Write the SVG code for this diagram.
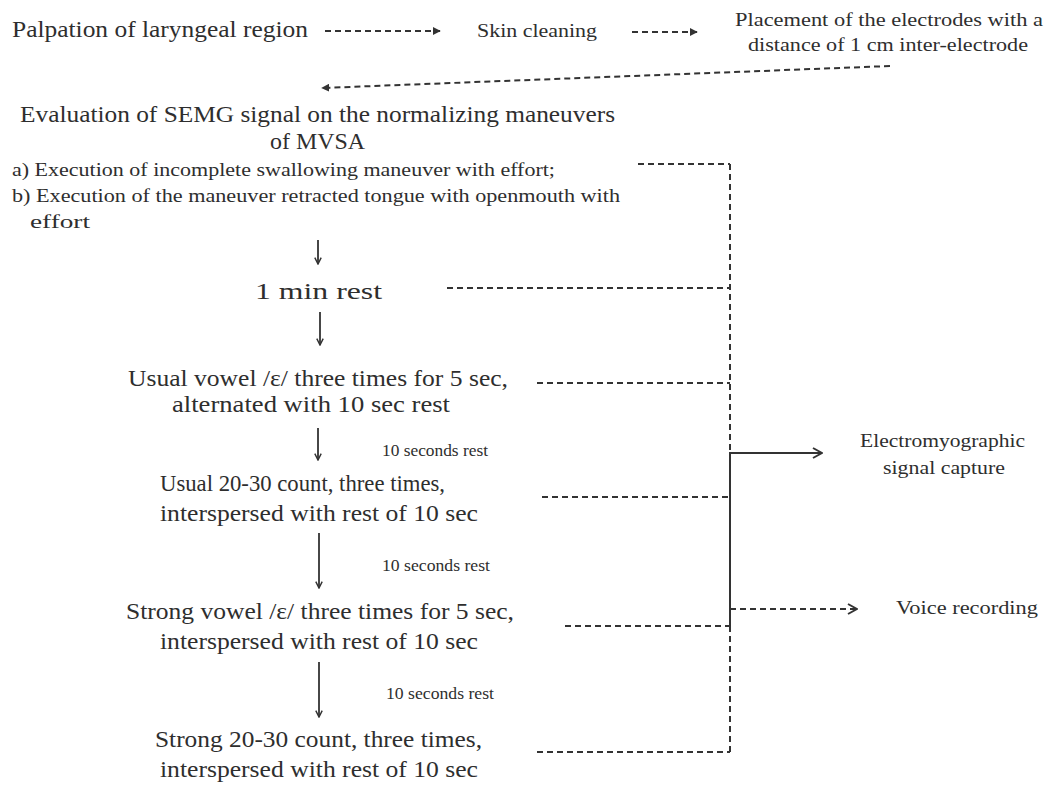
<svg xmlns="http://www.w3.org/2000/svg" width="1049" height="785" viewBox="0 0 1049 785">
<style>
text{font-family:"Liberation Serif","Times New Roman",serif;fill:#2e2e2e}
.l{font-size:23px}
.m{font-size:18px}
.s{font-size:16.5px}
.d{fill:none;stroke:#333;stroke-width:2;stroke-dasharray:6 4}
.sol{fill:none;stroke:#333;stroke-width:2}
.dn{fill:none;stroke:#333;stroke-width:1.8}
</style>
<defs>
<marker id="tri" viewBox="0 0 10 10" refX="9" refY="5" markerWidth="4" markerHeight="4" orient="auto" markerUnits="strokeWidth">
<path d="M0,0 L10,5 L0,10 z" fill="#333"/>
</marker>
<marker id="chev" viewBox="0 0 10 10" refX="9" refY="5" markerWidth="8" markerHeight="8" orient="auto" markerUnits="userSpaceOnUse">
<path d="M1,1 L9,5 L1,9" fill="none" stroke="#333" stroke-width="1.8"/>
</marker>
<marker id="chevL" viewBox="0 0 12 12" refX="11" refY="6" markerWidth="12" markerHeight="12" orient="auto" markerUnits="userSpaceOnUse">
<path d="M2,1 L11,6 L2,11" fill="none" stroke="#333" stroke-width="2"/>
</marker>
</defs>
<rect width="1049" height="785" fill="#fff"/>

<g id="palpation"><text class="l" x="12" y="37" textLength="296" lengthAdjust="spacingAndGlyphs">Palpation of laryngeal region</text></g>
<g id="skin"><text class="m" x="477" y="37" textLength="120" lengthAdjust="spacingAndGlyphs">Skin cleaning</text></g>
<g id="placement">
<text class="m" x="735" y="26" textLength="308" lengthAdjust="spacingAndGlyphs">Placement of the electrodes with a</text>
<text class="m" x="748" y="51" textLength="280" lengthAdjust="spacingAndGlyphs">distance of 1 cm inter-electrode</text>
</g>
<g id="evaluation">
<text class="l" x="20" y="122" textLength="595" lengthAdjust="spacingAndGlyphs">Evaluation of SEMG signal on the normalizing maneuvers</text>
<text class="l" x="270" y="149" textLength="95" lengthAdjust="spacingAndGlyphs">of MVSA</text>
<text class="m" x="12" y="176" textLength="543" lengthAdjust="spacingAndGlyphs">a) Execution of incomplete swallowing maneuver with effort;</text>
<text class="m" x="12" y="202" textLength="608" lengthAdjust="spacingAndGlyphs">b) Execution of the maneuver retracted tongue with openmouth with</text>
<text class="m" x="30" y="228" textLength="60" lengthAdjust="spacingAndGlyphs">effort</text>
</g>
<g id="rest1"><text class="l" x="255" y="299" textLength="127" lengthAdjust="spacingAndGlyphs">1 min rest</text></g>
<g id="usualvowel">
<text class="l" x="128" y="386" textLength="380" lengthAdjust="spacingAndGlyphs">Usual vowel /ε/ three times for 5 sec,</text>
<text class="l" x="172" y="412" textLength="278" lengthAdjust="spacingAndGlyphs">alternated with 10 sec rest</text>
</g>
<g id="usualcount">
<text class="l" x="160" y="491" textLength="285" lengthAdjust="spacingAndGlyphs">Usual 20-30 count, three times,</text>
<text class="l" x="160" y="521" textLength="318" lengthAdjust="spacingAndGlyphs">interspersed with rest of 10 sec</text>
</g>
<g id="strongvowel">
<text class="l" x="126" y="619" textLength="388" lengthAdjust="spacingAndGlyphs">Strong vowel /ε/ three times for 5 sec,</text>
<text class="l" x="160" y="649" textLength="318" lengthAdjust="spacingAndGlyphs">interspersed with rest of 10 sec</text>
</g>
<g id="strongcount">
<text class="l" x="155" y="747" textLength="327" lengthAdjust="spacingAndGlyphs">Strong 20-30 count, three times,</text>
<text class="l" x="160" y="777" textLength="318" lengthAdjust="spacingAndGlyphs">interspersed with rest of 10 sec</text>
</g>
<g id="restlabels">
<text class="s" x="382" y="456" textLength="106" lengthAdjust="spacingAndGlyphs">10 seconds rest</text>
<text class="s" x="382" y="571" textLength="108" lengthAdjust="spacingAndGlyphs">10 seconds rest</text>
<text class="s" x="386" y="699" textLength="108" lengthAdjust="spacingAndGlyphs">10 seconds rest</text>
</g>
<g id="emg">
<text class="m" x="860" y="447" textLength="165" lengthAdjust="spacingAndGlyphs">Electromyographic</text>
<text class="m" x="883" y="474" textLength="122" lengthAdjust="spacingAndGlyphs">signal capture</text>
</g>
<g id="voice"><text class="m" x="896" y="614" textLength="142" lengthAdjust="spacingAndGlyphs">Voice recording</text></g>

<g id="connectors">
<line class="d" x1="325" y1="31" x2="440" y2="31" marker-end="url(#tri)"/>
<line class="d" x1="632" y1="32" x2="697" y2="32" marker-end="url(#tri)"/>
<line class="d" x1="890" y1="66" x2="322" y2="88" marker-end="url(#tri)"/>

<line class="dn" x1="318" y1="240" x2="318" y2="264" marker-end="url(#chev)"/>
<line class="dn" x1="320" y1="312" x2="320" y2="345" marker-end="url(#chev)"/>
<line class="dn" x1="318" y1="428" x2="318" y2="460" marker-end="url(#chev)"/>
<line class="dn" x1="319" y1="533" x2="319" y2="588" marker-end="url(#chev)"/>
<line class="dn" x1="319" y1="662" x2="319" y2="717" marker-end="url(#chev)"/>

<line class="d" x1="638" y1="164" x2="730" y2="164"/>
<line class="d" x1="447" y1="288" x2="730" y2="288"/>
<line class="d" x1="537" y1="383" x2="730" y2="383"/>
<line class="d" x1="542" y1="497" x2="730" y2="497"/>
<line class="d" x1="565" y1="626" x2="730" y2="626"/>
<line class="d" x1="537" y1="752" x2="730" y2="752"/>

<line class="d" x1="730" y1="164" x2="730" y2="452"/>
<line class="sol" x1="730" y1="452" x2="730" y2="626"/>
<line class="d" x1="730" y1="626" x2="730" y2="752"/>

<line class="sol" x1="730" y1="453" x2="822" y2="453" marker-end="url(#chevL)"/>
<line class="d" x1="730" y1="609" x2="857" y2="609" marker-end="url(#chevL)"/>
</g>
</svg>
